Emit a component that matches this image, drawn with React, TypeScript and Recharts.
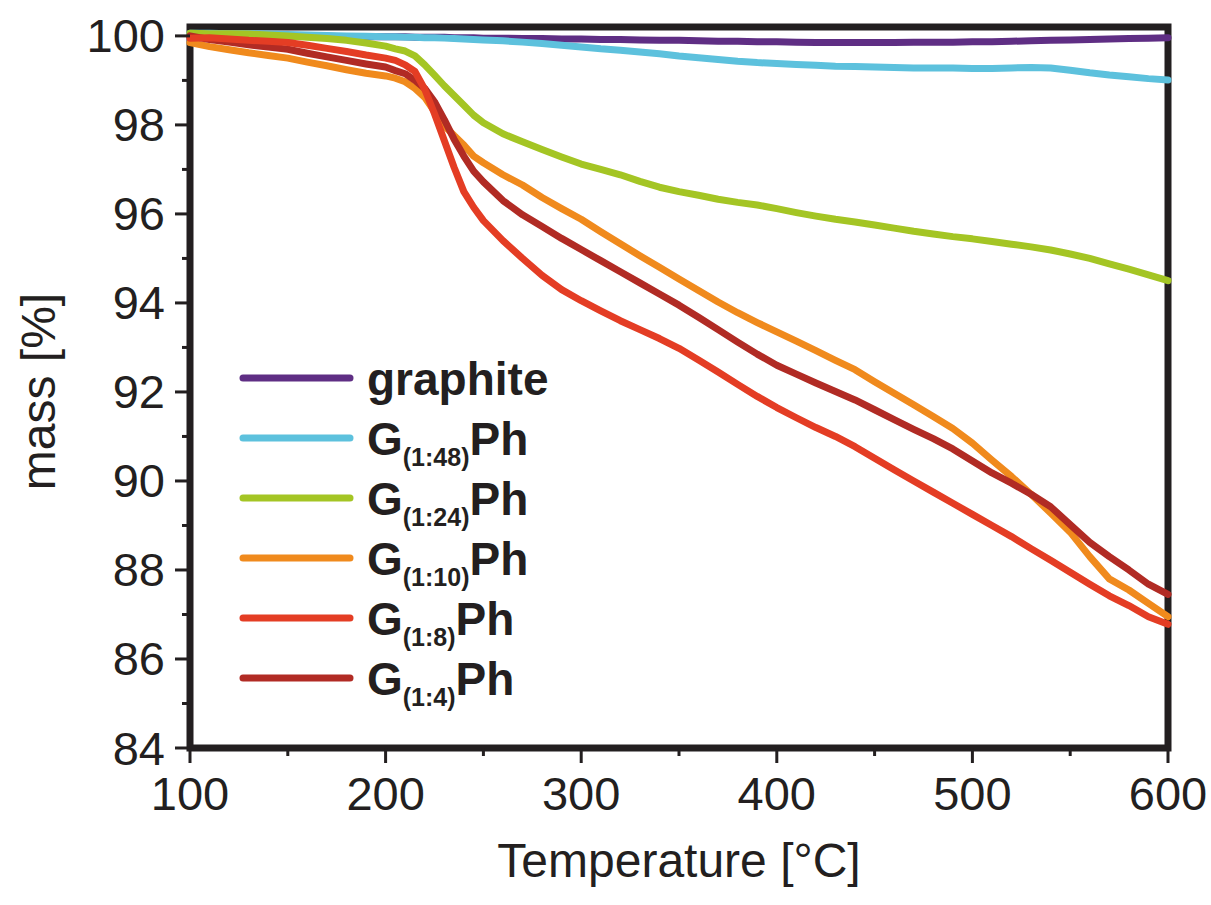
import React from 'react';
import { LineChart, Line, XAxis, YAxis, ReferenceArea, Legend } from 'recharts';

const FONT = '"Liberation Sans", Arial, Helvetica, sans-serif';
const INK = '#231f20';

const temperatures = [
  100, 110, 120, 130, 140, 150, 160, 170, 180, 190, 200,
  205, 210, 215, 220, 225, 230, 235, 240, 245, 250,
  260, 270, 280, 290, 300, 310, 320, 330, 340, 350,
  360, 370, 380, 390, 400, 410, 420, 430, 440, 450,
  460, 470, 480, 490, 500, 510, 520, 530, 540, 550,
  560, 570, 580, 590, 600,
];

const graphite = [
  100.0, 100.0, 100.0, 100.0, 100.0, 99.99, 99.99, 99.99, 99.98, 99.98, 99.98,
  99.98, 99.98, 99.97, 99.97, 99.97, 99.97, 99.96, 99.96, 99.96, 99.95,
  99.95, 99.94, 99.94, 99.93, 99.93, 99.92, 99.92, 99.91, 99.9, 99.9,
  99.89, 99.88, 99.88, 99.87, 99.87, 99.86, 99.85, 99.85, 99.85, 99.85,
  99.85, 99.86, 99.86, 99.86, 99.87, 99.87, 99.88, 99.89, 99.9, 99.91,
  99.92, 99.93, 99.94, 99.95, 99.96,
];

const g148 = [
  100.06, 100.06, 100.05, 100.05, 100.04, 100.03, 100.02, 100.01, 100.0, 99.99, 99.98,
  99.98, 99.97, 99.97, 99.96, 99.96, 99.95, 99.94, 99.93, 99.92, 99.91,
  99.89, 99.86, 99.83, 99.79, 99.75, 99.71, 99.68, 99.64, 99.6, 99.55,
  99.51, 99.47, 99.43, 99.4, 99.38, 99.36, 99.34, 99.32, 99.31, 99.3,
  99.29, 99.28, 99.28, 99.28, 99.27, 99.27, 99.28, 99.29, 99.28, 99.23,
  99.17, 99.12, 99.08, 99.04, 99.01,
];

const g124 = [
  100.06, 100.05, 100.05, 100.04, 100.02, 100.0, 99.97, 99.94, 99.9, 99.84, 99.77,
  99.71, 99.66, 99.55, 99.35, 99.12, 98.88, 98.66, 98.44, 98.22, 98.05,
  97.8, 97.62, 97.45, 97.28, 97.12, 97.0, 96.88, 96.73, 96.6, 96.5,
  96.42, 96.33, 96.26, 96.2, 96.12, 96.03, 95.95, 95.88, 95.82, 95.75,
  95.68, 95.61, 95.55, 95.49, 95.44, 95.38, 95.32, 95.26, 95.19, 95.1,
  95.0, 94.88, 94.76, 94.63, 94.5,
];

const g110 = [
  99.85, 99.76, 99.69, 99.62, 99.56, 99.5, 99.41, 99.33, 99.24, 99.16, 99.1,
  99.05, 98.97, 98.82, 98.62, 98.3, 97.98, 97.76, 97.55, 97.3, 97.15,
  96.88, 96.65, 96.37, 96.12, 95.88, 95.6, 95.33, 95.06, 94.8, 94.54,
  94.28, 94.02, 93.78, 93.56, 93.35, 93.14, 92.93, 92.71, 92.5, 92.23,
  91.97, 91.71, 91.45, 91.18, 90.85, 90.47, 90.1, 89.7, 89.28, 88.85,
  88.3, 87.8, 87.55, 87.25, 86.95,
];

const g18 = [
  99.95, 99.96, 99.93, 99.9, 99.88, 99.85, 99.79, 99.72, 99.65, 99.57, 99.5,
  99.45, 99.35, 99.2, 98.8, 98.25, 97.65, 97.05, 96.5, 96.15, 95.85,
  95.4, 95.0, 94.62, 94.3, 94.05, 93.82, 93.6, 93.4, 93.2, 92.98,
  92.72, 92.45, 92.17, 91.9, 91.65, 91.42, 91.2, 91.0, 90.77, 90.51,
  90.25, 90.0, 89.75, 89.5, 89.25, 89.0, 88.75, 88.48, 88.22, 87.95,
  87.68, 87.42, 87.2, 86.95, 86.78,
];

const g14 = [
  100.0, 99.92, 99.86, 99.8, 99.75, 99.7, 99.61, 99.53, 99.45, 99.37, 99.3,
  99.22, 99.15, 99.0, 98.82, 98.52, 98.12, 97.68, 97.3, 96.96, 96.72,
  96.3, 95.98, 95.72, 95.45, 95.2, 94.95, 94.7, 94.45, 94.2, 93.95,
  93.68, 93.4, 93.12, 92.85, 92.6, 92.4, 92.2, 92.01, 91.82, 91.6,
  91.38, 91.16, 90.95, 90.72, 90.45, 90.18, 89.95, 89.7, 89.42, 89.02,
  88.62, 88.3, 88.0, 87.68, 87.45,
];

const seriesKeys = ['graphite', 'g148', 'g124', 'g110', 'g18', 'g14'];
const seriesNames = ['graphite', 'G(1:48)Ph', 'G(1:24)Ph', 'G(1:10)Ph', 'G(1:8)Ph', 'G(1:4)Ph'];
const seriesColors = ['#5f2e84', '#5dc1dd', '#a4c524', '#f08a1d', '#e43d24', '#b12b24'];
const seriesValues = [graphite, g148, g124, g110, g18, g14];
const drawOrder = [0, 1, 2, 3, 5, 4];

const xTicks = [100, 150, 200, 250, 300, 350, 400, 450, 500, 550, 600];
const yTicks = [84, 85, 86, 87, 88, 89, 90, 91, 92, 93, 94, 95, 96, 97, 98, 99, 100];

const data = temperatures.map((t, i) => {
  const row: Record<string, number> = { t };
  seriesKeys.forEach((k, j) => {
    row[k] = seriesValues[j][i];
  });
  return row;
});

const XTick = (props: any) => {
  const { x, y, payload } = props;
  const major = payload.value % 100 === 0;
  return (
    <g>
      <line x1={x} x2={x} y1={y} y2={y + (major ? 15 : 8)} stroke={INK} strokeWidth={3} />
      {major && (
        <text x={x} y={y + 62} textAnchor="middle" fontSize={47} fontFamily={FONT} fill={INK}>
          {payload.value}
        </text>
      )}
    </g>
  );
};

const YTick = (props: any) => {
  const { x, y, payload } = props;
  const major = payload.value % 2 === 0;
  return (
    <g>
      <line x1={x} x2={x - (major ? 15 : 8)} y1={y} y2={y} stroke={INK} strokeWidth={3} />
      {major && (
        <text x={x - 25} y={y + 16.5} textAnchor="end" fontSize={47} fontFamily={FONT} fill={INK}>
          {payload.value}
        </text>
      )}
    </g>
  );
};

const XTitle = (props: any) => {
  const vb = props.viewBox || { x: 190, y: 748, width: 978 };
  return (
    <text x={vb.x + vb.width / 2} y={vb.y + 129} textAnchor="middle" fontSize={48} fontFamily={FONT} fill={INK}>
      Temperature [°C]
    </text>
  );
};

const YTitle = (props: any) => {
  const vb = props.viewBox || { x: 0, y: 27, height: 721 };
  const cx = 55;
  const cy = vb.y + vb.height / 2 + 4;
  return (
    <text transform={`translate(${cx},${cy}) rotate(-90)`} textAnchor="middle" fontSize={48} fontFamily={FONT} fill={INK}>
      mass [%]
    </text>
  );
};

const LegendBox = () => (
  <svg width={360} height={380} style={{ overflow: 'visible' }}>
    {seriesNames.map((name, i) => {
      const cy = 38 + i * 60;
      const m = name.match(/^(G)(\(.*\))(Ph)$/);
      return (
        <g key={name}>
          <line x1={13} x2={120} y1={cy} y2={cy} stroke={seriesColors[i]} strokeWidth={7} strokeLinecap="round" />
          <text x={137} y={cy + 17} fontSize={46} fontWeight="bold" fontFamily={FONT} fill={INK}>
            {m ? (
              <>
                <tspan>{m[1]}</tspan>
                <tspan fontSize={25} dy={11}>{m[2]}</tspan>
                <tspan dy={-11}>{m[3]}</tspan>
              </>
            ) : (
              name
            )}
          </text>
        </g>
      );
    })}
  </svg>
);

export default function App() {
  return (
    <div style={{ position: 'absolute', left: 0, top: 0, width: 1211, height: 905, background: '#fff' }}>
      <LineChart width={1211} height={905} data={data} margin={{ top: 27, right: 43, bottom: 0, left: 0 }}>
        <XAxis
          dataKey="t"
          type="number"
          domain={[100, 600]}
          ticks={xTicks}
          interval={0}
          height={157}
          axisLine={false}
          tickLine={false}
          tickSize={0}
          tickMargin={0}
          tick={<XTick />}
          label={<XTitle />}
        />
        <YAxis
          type="number"
          domain={[84, 100.2]}
          ticks={yTicks}
          interval={0}
          width={190}
          axisLine={false}
          tickLine={false}
          tickSize={0}
          tickMargin={0}
          tick={<YTick />}
          label={<YTitle />}
        />
        {drawOrder.map((j) => (
          <Line
            key={seriesKeys[j]}
            dataKey={seriesKeys[j]}
            name={seriesNames[j]}
            type="linear"
            stroke={seriesColors[j]}
            strokeWidth={7}
            strokeLinejoin="round"
            strokeLinecap="round"
            dot={false}
            activeDot={false}
            isAnimationActive={false}
          />
        ))}
        <ReferenceArea
          x1={100}
          x2={600}
          y1={84}
          y2={100.2}
          fill="none"
          fillOpacity={0}
          stroke={INK}
          strokeWidth={7}
          ifOverflow="visible"
        />
        <Legend
          layout="vertical"
          align="center"
          verticalAlign="middle"
          content={<LegendBox />}
          wrapperStyle={{ left: 230, top: 340, width: 360, height: 380 }}
        />
      </LineChart>
    </div>
  );
}
